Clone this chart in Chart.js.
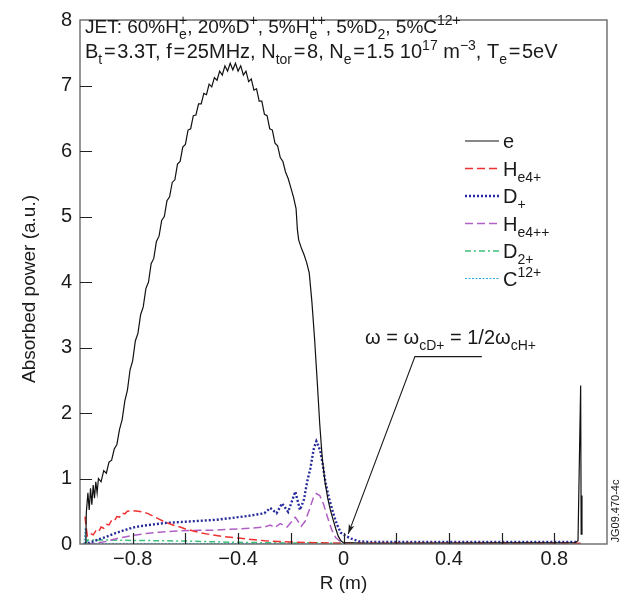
<!DOCTYPE html>
<html lang="en">
<head>
<meta charset="utf-8">
<script src="https://cdn.jsdelivr.net/npm/chart.js"></script>
<style>
  html, body { margin: 0; padding: 0; background: #fff; }
</style>
</head>
<body>
<canvas id="powerChart" width="637" height="600"></canvas>
<script>
// ---- data: R (m) and absorbed power (a.u.) per species ----
const eR = [-0.978, -0.976, -0.97, -0.965, -0.96, -0.955, -0.95, -0.945, -0.94, -0.935, -0.93,
  -0.92, -0.91, -0.90, -0.89, -0.88, -0.87, -0.86, -0.85, -0.84, -0.83, -0.82, -0.81, -0.80,
  -0.79, -0.78, -0.77, -0.76, -0.75, -0.74, -0.73, -0.72, -0.71, -0.70, -0.69, -0.68, -0.67,
  -0.66, -0.65, -0.64, -0.63, -0.62, -0.61, -0.60, -0.59, -0.58, -0.57, -0.56, -0.55, -0.54,
  -0.53, -0.52, -0.51, -0.50, -0.49, -0.48, -0.47, -0.46, -0.45, -0.44, -0.43, -0.42, -0.41,
  -0.40, -0.39, -0.38, -0.37, -0.36, -0.35, -0.34, -0.33, -0.32, -0.31, -0.30, -0.29, -0.28,
  -0.27, -0.26, -0.25, -0.24, -0.23, -0.22, -0.21, -0.20, -0.19, -0.18, -0.175, -0.17, -0.16,
  -0.15, -0.14, -0.13, -0.12, -0.11, -0.10, -0.09, -0.08, -0.07, -0.06, -0.05, -0.04, -0.03,
  -0.02, -0.01, 0.00, 0.10, 0.88, 0.89, 0.90, 0.902, 0.905];
const eP = [0.00, 0.48, 0.78, 0.52, 0.85, 0.60, 0.90, 0.70, 0.95, 0.78, 1.00,
  0.95, 1.12, 1.08, 1.25, 1.28, 1.45, 1.52, 1.75, 1.90, 2.18, 2.35, 2.66, 2.80,
  3.10, 3.22, 3.50, 3.62, 3.90, 4.00, 4.28, 4.36, 4.62, 4.70, 4.94, 5.00, 5.24,
  5.30, 5.52, 5.56, 5.80, 5.84, 6.06, 6.10, 6.32, 6.34, 6.54, 6.55, 6.72, 6.72,
  6.88, 6.86, 7.02, 6.98, 7.12, 7.08, 7.22, 7.16, 7.30, 7.22, 7.34, 7.24, 7.34,
  7.22, 7.30, 7.16, 7.22, 7.06, 7.10, 6.93, 6.95, 6.76, 6.76, 6.56, 6.54, 6.34,
  6.32, 6.12, 6.08, 5.90, 5.84, 5.68, 5.58, 5.44, 5.30, 5.12, 4.80, 4.64, 4.52,
  4.42, 4.30, 4.14, 3.70, 3.15, 2.50, 1.82, 1.28, 0.94, 0.70, 0.52, 0.38, 0.24,
  0.12, 0.05, 0.02, 0.01, 0.02, 0.05, 2.42, 0.15, 0.74];

const he4R = [-0.981, -0.978, -0.972, -0.96, -0.95, -0.94, -0.93, -0.92, -0.91, -0.90, -0.89,
  -0.88, -0.87, -0.86, -0.85, -0.84, -0.83, -0.82, -0.80, -0.78, -0.76, -0.74, -0.72, -0.70,
  -0.68, -0.66, -0.64, -0.62, -0.60, -0.57, -0.54, -0.50, -0.45, -0.40, -0.35, -0.30, -0.25,
  -0.20, -0.10, 0.00, 0.90];
const he4P = [0.42, 0.30, 0.12, 0.16, 0.14, 0.20, 0.18, 0.26, 0.24, 0.30, 0.29,
  0.36, 0.35, 0.42, 0.41, 0.47, 0.46, 0.50, 0.51, 0.50, 0.49, 0.46, 0.42, 0.38,
  0.34, 0.31, 0.28, 0.26, 0.23, 0.20, 0.17, 0.14, 0.11, 0.09, 0.07, 0.05, 0.04,
  0.03, 0.02, 0.01, 0.01];

const dR = [-0.985, -0.97, -0.95, -0.93, -0.90, -0.87, -0.84, -0.80, -0.76, -0.72, -0.68,
  -0.64, -0.60, -0.56, -0.52, -0.48, -0.44, -0.40, -0.36, -0.33, -0.30, -0.278, -0.254, -0.233,
  -0.21, -0.183, -0.165, -0.15, -0.138, -0.126, -0.113, -0.103, -0.095, -0.088, -0.078, -0.069,
  -0.055, -0.04, -0.025, -0.01, 0.01, 0.03, 0.06, 0.10, 0.88, 0.89];
const dP = [0.00, 0.01, 0.04, 0.07, 0.11, 0.16, 0.20, 0.25, 0.28, 0.30, 0.32,
  0.33, 0.34, 0.35, 0.36, 0.37, 0.39, 0.41, 0.43, 0.45, 0.47, 0.55, 0.47, 0.62,
  0.49, 0.80, 0.52, 0.68, 0.95, 1.15, 1.45, 1.57, 1.50, 1.42, 1.20, 0.95,
  0.70, 0.48, 0.30, 0.17, 0.12, 0.08, 0.04, 0.03, 0.03, 0.01];

const he4ppR = [-0.975, -0.93, -0.90, -0.875, -0.84, -0.80, -0.75, -0.70, -0.62, -0.55, -0.50,
  -0.45, -0.40, -0.35, -0.30, -0.278, -0.262, -0.24, -0.214, -0.183, -0.16, -0.145, -0.13,
  -0.115, -0.103, -0.09, -0.075, -0.06, -0.045, -0.03, -0.01, 0.02, 0.90];
const he4ppP = [0.00, 0.02, 0.04, 0.07, 0.10, 0.13, 0.16, 0.18, 0.20, 0.21, 0.21,
  0.22, 0.23, 0.24, 0.26, 0.29, 0.25, 0.31, 0.26, 0.41, 0.27, 0.35, 0.52,
  0.70, 0.77, 0.74, 0.60, 0.40, 0.22, 0.10, 0.03, 0.00, 0.00];

const d2R = [-0.98, -0.97, -0.90, -0.80, -0.70, -0.60, -0.50, -0.40, -0.30, -0.20, -0.10, 0.00, 0.90];
const d2P = [0.00, 0.06, 0.06, 0.055, 0.05, 0.045, 0.035, 0.025, 0.02, 0.015, 0.02, 0.01, 0.00];

const cR = [-0.985, -0.98, -0.975, -0.96, 0.90];
const cP = [0.00, 0.25, 0.05, 0.01, 0.00];

const seriesNames = ['e', 'He4+', 'D+', 'He4++', 'D2+', 'C12+'];
const xTicks = [-0.8, -0.4, 0, 0.4, 0.8];

// line styles (not data)
const styles = [
  { color: '#111111', width: 1.2, dash: [] },
  { color: '#f03030', width: 1.5, dash: [8, 4] },
  { color: '#262a9a', width: 2.4, dash: [2, 2] },
  { color: '#b060c4', width: 1.5, dash: [8, 4] },
  { color: '#3cc07c', width: 1.5, dash: [6, 3, 2, 3] },
  { color: '#2ba6e4', width: 1.0, dash: [2, 1.5] }
];

const seriesR = [eR, he4R, dR, he4ppR, d2R, cR];
const seriesP = [eP, he4P, dP, he4ppP, d2P, cP];

const FONT = '"Liberation Sans", Arial, Helvetica, sans-serif';
const EQ = '\u200a=\u200a';

function richText(ctx, x, y, parts, size) {
  let cx = x;
  for (const [t, sub, sup] of parts) {
    ctx.font = size + 'px ' + FONT;
    ctx.fillText(t, cx, y);
    cx += ctx.measureText(t).width;
    let w = 0;
    ctx.font = Math.round(size * 0.72) + 'px ' + FONT;
    if (sub) { ctx.fillText(sub, cx, y + size * 0.3); w = ctx.measureText(sub).width; }
    if (sup) { ctx.fillText(sup, cx, y - size * 0.42); w = Math.max(w, ctx.measureText(sup).width); }
    cx += w;
  }
  return cx;
}

const legendParts = [
  [['e']],
  [['H', 'e4+']],
  [['D', '+']],
  [['H', 'e4++']],
  [['D', '2+']],
  [['C', '', '12+']]
];

const overlay = {
  id: 'overlay',
  afterDraw(chart) {
    const { ctx, chartArea: a, scales: { x, y } } = chart;
    ctx.save();
    // frame
    ctx.strokeStyle = '#6a6a6a';
    ctx.lineWidth = 1.4;
    ctx.setLineDash([]);
    ctx.strokeRect(a.left, a.top, a.right - a.left, a.bottom - a.top);
    // inward ticks
    ctx.strokeStyle = '#222';
    ctx.lineWidth = 1.2;
    ctx.beginPath();
    x.ticks.forEach(t => {
      if (Math.abs(Math.abs(t.value) - 1) < 1e-6) return;
      const px = Math.round(x.getPixelForValue(t.value)) + 0.5;
      ctx.moveTo(px, a.bottom); ctx.lineTo(px, a.bottom - 11);
    });
    y.ticks.forEach(t => {
      if (t.value <= 0 || t.value >= 8) return;
      const py = Math.round(y.getPixelForValue(t.value)) + 0.5;
      ctx.moveTo(a.left, py); ctx.lineTo(a.left + 12, py);
    });
    ctx.stroke();

    ctx.fillStyle = '#1a1a1a';
    ctx.textBaseline = 'alphabetic';
    ctx.textAlign = 'left';
    // header
    richText(ctx, a.left + 5, 33, [['JET: 60%H', 'e', '+'], [', 20%D', '', '+'], [', 5%H', 'e', '++'],
      [', 5%D', '2', ''], [', 5%C', '', '12+']], 19);
    richText(ctx, a.left + 5, 58, [['B', 't', ''], [EQ + '3.3T, f' + EQ + '25MHz, N', 'tor', ''],
      [EQ + '8, N', 'e', ''], [EQ + '1.5 10', '', '17'], [' m', '', '\u22123'], [', T', 'e', ''],
      [EQ + '5eV', '', '']], 20);

    // legend
    legendParts.forEach((parts, i) => {
      const ly = 141 + i * 27.5;
      const s = styles[i];
      ctx.strokeStyle = s.color;
      ctx.lineWidth = s.width;
      ctx.setLineDash(s.dash);
      ctx.beginPath();
      ctx.moveTo(465, ly); ctx.lineTo(499, ly);
      ctx.stroke();
      ctx.setLineDash([]);
      ctx.fillStyle = '#1a1a1a';
      richText(ctx, 503, ly + 7, parts, 20);
    });

    // annotation with arrow
    const tx = x.getPixelForValue(0.082), ty = y.getPixelForValue(3.05);
    richText(ctx, tx, ty, [['\u03c9 = \u03c9', 'cD+', ''], [' = 1/2\u03c9', 'cH+', '']], 20);
    const k1x = x.getPixelForValue(0.271), k1y = y.getPixelForValue(2.86);
    const k2x = x.getPixelForValue(0.525);
    const tipx = x.getPixelForValue(0.018), tipy = y.getPixelForValue(0.155);
    ctx.strokeStyle = '#1a1a1a';
    ctx.lineWidth = 1.1;
    ctx.beginPath();
    ctx.moveTo(k2x, k1y); ctx.lineTo(k1x, k1y); ctx.lineTo(tipx, tipy);
    ctx.stroke();
    const ang = Math.atan2(tipy - k1y, tipx - k1x);
    ctx.beginPath();
    ctx.moveTo(tipx, tipy);
    ctx.lineTo(tipx - 10 * Math.cos(ang - 0.3), tipy - 10 * Math.sin(ang - 0.3));
    ctx.lineTo(tipx - 7 * Math.cos(ang), tipy - 7 * Math.sin(ang));
    ctx.lineTo(tipx - 10 * Math.cos(ang + 0.3), tipy - 10 * Math.sin(ang + 0.3));
    ctx.closePath();
    ctx.fillStyle = '#1a1a1a';
    ctx.fill();

    // axis titles
    ctx.font = '19px ' + FONT;
    ctx.textAlign = 'center';
    ctx.textBaseline = 'middle';
    ctx.fillText('R (m)', (a.left + a.right) / 2, 584);
    ctx.save();
    ctx.translate(30, 289);
    ctx.rotate(-Math.PI / 2);
    ctx.fillText('Absorbed power (a.u.)', 0, 0);
    ctx.restore();
    // figure id
    ctx.save();
    ctx.font = '11px ' + FONT;
    ctx.translate(616, 511);
    ctx.rotate(-Math.PI / 2);
    ctx.fillText('JG09.470-4c', 0, 0);
    ctx.restore();
    ctx.restore();
  }
};

const datasets = seriesNames.map((name, i) => ({
  label: name,
  data: seriesR[i].map((r, j) => ({ x: r, y: seriesP[i][j] })),
  showLine: true,
  borderColor: styles[i].color,
  borderWidth: styles[i].width,
  borderDash: styles[i].dash,
  pointRadius: 0,
  tension: 0,
  fill: false,
  order: i
}));

new Chart(document.getElementById('powerChart'), {
  type: 'scatter',
  data: { datasets },
  plugins: [overlay],
  options: {
    responsive: false,
    animation: false,
    layout: { padding: { top: 15, right: 30, left: 0, bottom: 0 } },
    plugins: { legend: { display: false }, tooltip: { enabled: false } },
    scales: {
      x: {
        type: 'linear', min: -1, max: 1,
        grid: { display: false, drawTicks: false, tickLength: 0 }, border: { display: false },
        afterFit(s) { s.height = 56; },
        ticks: {
          stepSize: 0.2, autoSkip: false, maxRotation: 0, padding: 3,
          color: '#1a1a1a', font: { size: 20, family: FONT },
          callback(v) {
            const t = Math.round(v * 10);
            const shown = xTicks.some(q => Math.round(q * 10) === t);
            if (!shown) return '';
            return t === 0 ? '0' : (t < 0 ? '\u2212' : '') + Math.abs(t / 10);
          }
        }
      },
      y: {
        type: 'linear', min: 0, max: 8,
        grid: { display: false, drawTicks: false, tickLength: 0 }, border: { display: false },
        afterFit(s) { s.width = 80; },
        ticks: {
          stepSize: 1, padding: 8, color: '#1a1a1a',
          font: { size: 20, family: FONT }
        }
      }
    }
  }
});
</script>
</body>
</html>
